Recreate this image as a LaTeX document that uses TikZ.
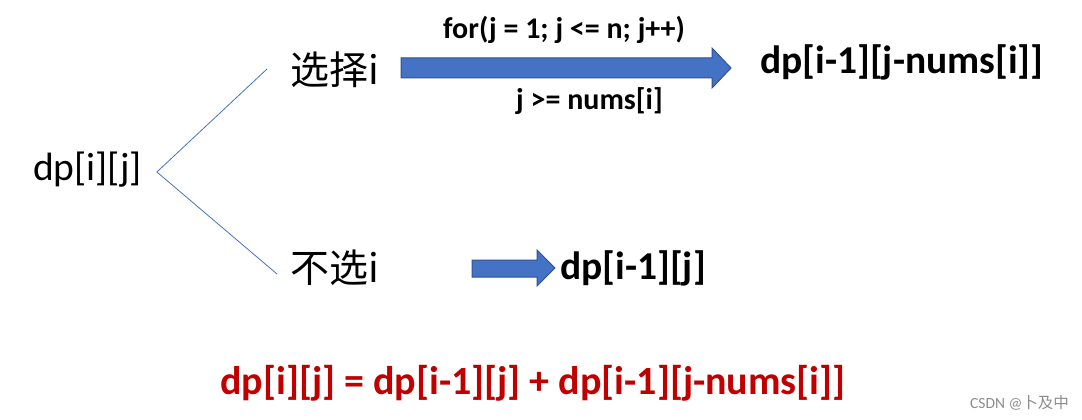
\documentclass[tikz,border=0pt]{standalone}
\usepackage{fontspec}
\setmainfont{Carlito}
\newfontfamily\cjk{Noto Sans CJK SC}
\usetikzlibrary{positioning}
\definecolor{arrowblue}{HTML}{4472C4}
\definecolor{arrowedge}{HTML}{2F528F}
\definecolor{formred}{HTML}{C00000}

\begin{document}
\begin{tikzpicture}[x=1pt, y=-1pt,
	big/.style={inner sep=0pt, anchor=west, font=\fontsize{39.5}{42}\selectfont},
	bigbold/.style={big, font=\fontsize{39.5}{42}\selectfont\bfseries},
	cond/.style={inner sep=0pt, anchor=west, font=\fontsize{30}{33}\selectfont\bfseries},
	choice/.style={inner sep=0pt, anchor=west, font=\fontsize{39}{42}\selectfont\cjk},
	branch/.style={draw=arrowblue, line width=0.8pt},
	blockarrow/.style={fill=arrowblue, draw=arrowedge, line width=1pt, line join=miter}
]
\useasboundingbox (0,0) rectangle (1082,420);
\node[big] (root) at (33,170) {dp[i][j]};
\node[choice] (pick) at (290,70) {选择i};
\node[choice] (skip) at (290,268) {不选i};
\node[cond] (loop) at (443,30) {for(j = 1; j <= n; j++)};
\node[cond] (guard) at (516,101) {j >= nums[i]};
\node[bigbold] (pickres) at (760,62) {dp[i-1][j-nums[i]]};
\node[bigbold] (skipres) at (560,268) {dp[i-1][j]};
\node[bigbold, font=\fontsize{40}{43}\selectfont\bfseries, text=formred] (formula) at (220,383) {dp[i][j] = dp[i-1][j] + dp[i-1][j-nums[i]]};
\node[inner sep=0pt, anchor=west, text=black!45, font=\fontsize{15.5}{18}\selectfont] (mark) at (970,403) {CSDN @{\cjk 卜及中}};
% branches
\coordinate (fork) at ([xshift=15pt, yshift=-2pt]root.east);
\draw[branch] (fork) -- ([xshift=-23pt, yshift=1pt]pick.west);
\draw[branch] (fork) -- ([xshift=-13pt, yshift=-6pt]skip.west);
% block arrows
\draw[blockarrow] (401,58) -- (712,58) -- (712,48) -- (731,68) -- (712,88) -- (712,78) -- (401,78) -- cycle;
\draw[blockarrow] (472,260) -- (537,260) -- (537,250) -- (555,268) -- (537,286) -- (537,277) -- (472,277) -- cycle;
\end{tikzpicture}
\end{document}
